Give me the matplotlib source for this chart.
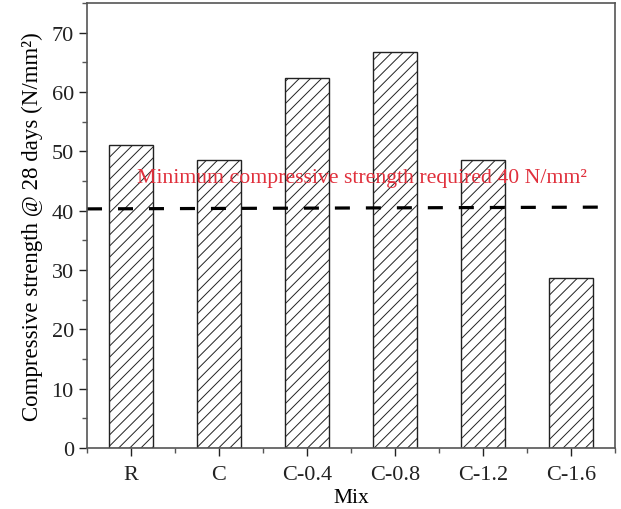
import matplotlib
matplotlib.use("Agg")
import matplotlib.pyplot as plt
from matplotlib.ticker import MultipleLocator, FixedLocator

mixes = ["R", "C", "C-0.4", "C-0.8", "C-1.2", "C-1.6"]
strength = [51.1, 48.6, 62.3, 66.7, 48.6, 28.6]
line_x = [-0.5, 5.42]
line_y = [40.3, 40.6]

plt.rcParams['font.family'] = ['Liberation Serif', 'DejaVu Serif']
plt.rcParams['hatch.linewidth'] = 0.7
plt.rcParams['hatch.color'] = '#333333'

fig = plt.figure(figsize=(6.21, 5.10), dpi=100)
ax = fig.add_axes([87/621, 1 - 449/510, (615-87)/621, (449-4)/510])

x = list(range(len(mixes)))
ax.bar(x, strength, width=0.51, color='white', edgecolor='#222222',
       linewidth=1.0, hatch='///')

ax.plot(line_x, line_y, color='black', linewidth=2.3, dashes=(4.7, 5))
ax.text(2.625, 45.6, "Minimum compressive strength required 40 N/mm²",
        color='#e0303c', fontsize=15.7, ha='center', va='center')

ax.set_xlim(-0.5, 5.5)
ax.set_ylim(0, 75)
ax.set_xticks(x)
ax.set_xticklabels(mixes)
ax.xaxis.set_minor_locator(FixedLocator([i - 0.5 for i in range(7)]))
ax.yaxis.set_major_locator(MultipleLocator(10))
ax.yaxis.set_minor_locator(MultipleLocator(5))
ax.tick_params(axis='both', which='major', direction='out', length=6,
               width=1, labelsize=16, colors='#222222')
ax.tick_params(axis='x', which='major', pad=6)
ax.tick_params(axis='both', which='minor', direction='out', length=3.5, width=1,
               colors='#555555')
for s in ax.spines.values():
    s.set_color('#555555')
    s.set_linewidth(1.2)

ax.set_xlabel("Mix", fontsize=15.5, labelpad=3)
ax.set_ylabel("Compressive strength @ 28 days (N/mm²)", fontsize=16.5, labelpad=6)

fig.savefig("out.png", dpi=100)
